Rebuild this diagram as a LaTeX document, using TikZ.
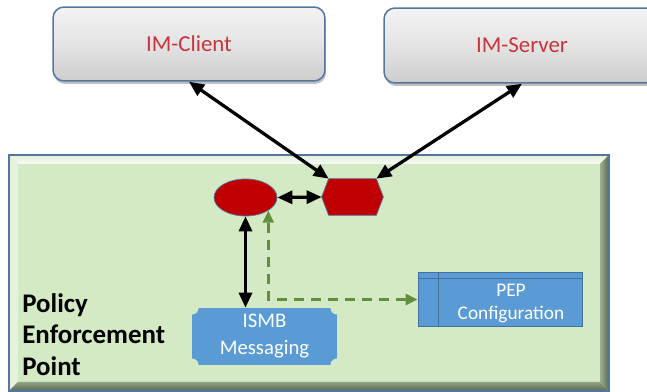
\documentclass[tikz,border=0pt]{standalone}
\usepackage{fontspec}
\setmainfont{Carlito}
\usetikzlibrary{shapes.geometric,shadows,arrows.meta}

\definecolor{imgray}{RGB}{228,228,228}
\definecolor{imedge}{RGB}{84,118,160}
\definecolor{imred}{RGB}{200,52,60}
\definecolor{pepgreen}{RGB}{211,234,196}
\definecolor{pepdark}{RGB}{90,104,82}
\definecolor{boxblue}{RGB}{91,155,213}
\definecolor{boxedge}{RGB}{68,114,160}
\definecolor{hexred}{RGB}{192,0,0}
\definecolor{dashgreen}{RGB}{98,142,62}

\tikzset{
  imbox/.style={rectangle, rounded corners=0.22cm, draw=imedge, line width=0.03cm,
    top color=imgray!45, bottom color=imgray!90!black, middle color=imgray,
    drop shadow={shadow xshift=0.02cm, shadow yshift=-0.06cm, opacity=0.5},
    text=imred, font=\fontsize{13}{15}\selectfont},
  redshape/.style={fill=hexred, draw=imedge, line width=0.015cm},
  hexbox/.style={minimum width=0.94cm, minimum height=0.72cm, inner sep=0pt},
  ismbbox/.style={rectangle, fill=boxblue, minimum width=2.9cm, minimum height=1.14cm,
    inner sep=0pt, align=center, text=white, font=\fontsize{11.8}{15.3}\selectfont,
    path picture={\foreach \c in {north west,north east,south west,south east}
      {\fill[pepgreen] (path picture bounding box.\c) circle (0.13cm);}}},
  pepbox/.style={rectangle, fill=boxblue, draw=boxedge, line width=0.02cm,
    minimum width=3.3cm, minimum height=1.1cm, inner sep=0pt},
  peptext/.style={align=center, text=white, inner sep=0pt, font=\fontsize{11}{12.6}\selectfont},
  biarrow/.style={{Triangle[length=0.3cm,width=0.26cm]}-{Triangle[length=0.3cm,width=0.26cm]}, line width=0.065cm},
  dasharrow/.style={{Triangle[length=0.24cm,width=0.22cm]}-{Triangle[length=0.24cm,width=0.22cm]},
    draw=dashgreen, line width=0.05cm, dash pattern=on 0.2cm off 0.14cm}
}

\begin{document}
\begin{tikzpicture}[x=0.02cm,y=0.02cm]
  \useasboundingbox (0,0) rectangle (647,392);
  \clip (0,0) rectangle (647,392);

  % Drawing the enforcement point area with its bevel
  \fill[pepgreen] (9,1) rectangle (609,237);
  \shade[top color=pepgreen!70!white, bottom color=white!85!pepgreen]
    (9,237) -- (609,237) -- (600,228) -- (18,228) -- cycle;
  \fill[pepgreen!60!white] (9,1) -- (9,237) -- (18,228) -- (18,10) -- cycle;
  \shade[left color=pepgreen!55!pepdark, right color=pepdark]
    (609,237) -- (609,1) -- (600,10) -- (600,228) -- cycle;
  \shade[top color=pepgreen!45!pepdark, bottom color=pepdark]
    (9,1) -- (609,1) -- (600,10) -- (18,10) -- cycle;
  \draw[imedge, line width=0.03cm] (9,1) rectangle (609,237);

  % Marking IM-Client and IM-Server
  \node[imbox, minimum width=5.44cm, minimum height=1.48cm] (client) at (189,348) {IM-Client};
  \node[imbox, minimum width=5.52cm, minimum height=1.5cm] (server) at (522,346.5) {IM-Server};

  % Marking ellipse and hexagon
  \node[ellipse, redshape, minimum width=1.26cm, minimum height=0.74cm, inner sep=0pt] (ell) at (245.5,194.5) {};
  \node[hexbox] (hex) at (352.5,195) {};
  \filldraw[redshape] ([xshift=-0.14cm]hex.west) -- (hex.north west) -- (hex.north east)
    -- ([xshift=0.14cm]hex.east) -- (hex.south east) -- (hex.south west) -- cycle;

  % Marking ISMB Messaging and PEP Configuration
  \node[ismbbox] (ismb) at (264.5,55.5) {ISMB\\Messaging};
  \node[pepbox] (pep) at (500.5,92.5) {};
  \draw[boxedge, line width=0.02cm] ([xshift=0.42cm]pep.north west) -- ([xshift=0.42cm]pep.south west);
  \draw[boxedge, line width=0.02cm] ([yshift=-0.14cm]pep.north west) -- ([yshift=-0.14cm]pep.north east);
  \node[peptext] (peplabel) at ([xshift=0.21cm,yshift=-0.08cm]pep.center) {PEP\\Configuration};

  % Marking Policy Enforcement Point
  \node[anchor=north west, inner sep=0pt, align=left, font=\bfseries\fontsize{15.3}{17.9}\selectfont]
    (title) at (22,99) {Policy\\Enforcement\\Point};

  % Drawing lines
  \draw[biarrow] (client.south) -- (hex.north west);
  \draw[biarrow] (server.south) -- (hex.north east);
  \draw[biarrow] (ell.east) -- ([xshift=-0.14cm]hex.west);
  \draw[biarrow] (ell.south) -- (ell.south |- ismb.north);
  \draw[dasharrow] (pep.west) -| (ell.-30);
\end{tikzpicture}
\end{document}
